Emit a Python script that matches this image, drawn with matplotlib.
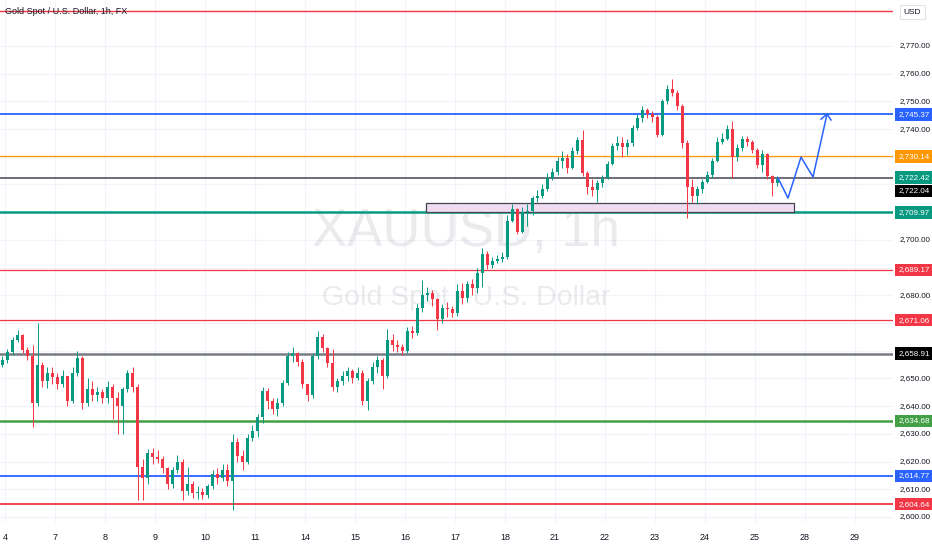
import numpy as np
import matplotlib.pyplot as plt
from matplotlib import transforms

plt.rcParams['font.family'] = ['Liberation Sans', 'DejaVu Sans']

# trading days on the time axis (one unit per session)
day_labels = ['4', '7', '8', '9', '10', '11', '14', '15', '16', '17', '18',
              '21', '22', '23', '24', '25', '28', '29']

# bars: 10 per session, the first one is the last bar before the 4th
first_open = 2655.0
closes = [
    2656.5,
    # 4
    2659.5, 2664, 2665.5, 2660.3, 2658, 2641, 2655, 2649, 2652, 2650.5,
    # 7
    2648, 2651, 2642, 2652, 2657.5, 2641, 2646, 2644, 2645, 2643,
    # 8
    2647, 2643, 2640, 2646, 2652, 2647, 2618, 2614, 2623, 2621.5,
    # 9
    2621, 2617.5, 2612, 2617, 2620, 2609.5, 2612, 2608.5, 2609, 2608,
    # 10
    2611, 2615.5, 2614, 2617, 2613, 2627, 2622, 2620, 2628.5, 2631,
    # 11
    2636, 2645.5, 2642, 2639, 2641, 2648.5, 2658, 2659, 2656, 2648,
    # 14
    2644, 2658, 2665, 2661, 2655.5, 2647, 2649, 2651, 2652.5, 2650,
    # 15
    2652, 2642, 2649, 2654, 2656.5, 2651, 2664, 2662, 2661.5, 2660,
    # 16
    2667, 2666.5, 2675.5, 2680, 2681, 2678.5, 2671.5, 2675.5, 2675, 2673.5,
    # 17
    2681.5, 2679, 2684, 2682.5, 2688, 2695, 2691, 2692.5, 2693, 2694,
    # 18
    2707, 2711, 2703, 2710, 2710.5, 2715, 2716, 2718.5, 2722.5, 2724.5,
    # 21
    2728.5, 2729.5, 2726, 2732, 2736, 2724, 2719, 2718, 2720.5, 2722.5,
    # 22
    2727.5, 2734, 2735, 2733.5, 2735, 2740.5, 2744, 2747, 2745.5, 2744.5,
    # 23
    2738, 2750, 2754.5, 2753, 2748.5, 2735, 2719, 2716, 2718.5, 2721,
    # 24
    2723.5, 2728.5, 2735.5, 2736.5, 2740, 2730, 2733, 2736.5, 2735.5, 2732.5,
    # 25
    2727, 2731, 2723, 2720.5, 2722.04,
]
highs = [
    2658,
    2660.5, 2665, 2667.5, 2666, 2661.5, 2662, 2670, 2656, 2654, 2654,
    2652, 2653, 2651, 2654, 2660, 2658, 2650, 2649, 2647, 2646,
    2649, 2648, 2645, 2647, 2653, 2654, 2648, 2621, 2624.5, 2625,
    2624, 2622, 2618, 2618, 2622.5, 2621, 2618, 2613, 2611, 2610.5,
    2612, 2617, 2617.5, 2619, 2619, 2630, 2628.5, 2624, 2630, 2633,
    2637, 2647, 2646.5, 2643, 2643, 2649.5, 2659.5, 2661.5, 2659.5, 2657,
    2647, 2659, 2667, 2666, 2661.5, 2660.5, 2650, 2652.5, 2654, 2653.5,
    2654, 2653, 2650, 2656, 2658, 2657.5, 2668, 2666, 2664, 2662.5,
    2668.5, 2669, 2677, 2685.5, 2683, 2682, 2679, 2677, 2677.5, 2676,
    2684, 2684.5, 2685, 2686, 2690, 2697, 2696, 2694, 2694.5, 2695.5,
    2709, 2713, 2711.5, 2712, 2713, 2716, 2718, 2720, 2724, 2726,
    2730, 2732, 2731, 2733.5, 2737, 2739.5, 2725, 2722, 2721.5, 2723.5,
    2728.5, 2735, 2737.5, 2737, 2736.5, 2741.5, 2745.5, 2748.5, 2747.5, 2746.5,
    2745, 2751, 2756, 2758, 2754, 2749, 2736, 2722, 2719.5, 2722,
    2725, 2729.5, 2737, 2738.5, 2741.5, 2743, 2734.5, 2737.5, 2737.5, 2736,
    2733, 2732.5, 2731.5, 2723.5, 2723,
]
lows = [
    2654,
    2655.5, 2658.5, 2663, 2659, 2656.5, 2632.5, 2640, 2647, 2646.5, 2648,
    2646, 2647, 2640, 2641, 2651, 2639, 2640, 2642, 2642, 2641,
    2641, 2635.5, 2630, 2630, 2645, 2645, 2606, 2606, 2612, 2619,
    2619.5, 2616, 2610, 2610.5, 2616, 2606, 2608, 2607, 2606.5, 2606.5,
    2607, 2610, 2612, 2613, 2611, 2602.5, 2620, 2617, 2619, 2627.5,
    2629, 2634, 2639, 2637, 2636.5, 2640, 2647.5, 2656, 2654.5, 2646.5,
    2642, 2643, 2657, 2659.5, 2654, 2645.5, 2645, 2647.5, 2649, 2648.5,
    2649.5, 2640.5, 2638.5, 2648, 2652, 2646, 2650, 2660, 2659.5, 2658.5,
    2659, 2664.5, 2665.5, 2674, 2678, 2676, 2667.5, 2670, 2672, 2672,
    2672.5, 2677, 2677.5, 2680, 2681, 2683, 2689.5, 2690, 2691.5, 2692,
    2693, 2706.5, 2702, 2702.5, 2705, 2709, 2713.5, 2715, 2717.5, 2721.5,
    2723.5, 2726, 2724, 2725.5, 2731, 2723, 2716.5, 2716, 2713.5, 2719,
    2722, 2727, 2732.5, 2730, 2730.5, 2734, 2739.5, 2742.5, 2744, 2742.5,
    2737, 2737.5, 2749, 2752, 2747, 2733, 2708, 2713.5, 2713, 2717,
    2720.5, 2722.5, 2728, 2734.5, 2736, 2722.5, 2728.5, 2732, 2734, 2731.5,
    2726, 2724.5, 2722, 2716, 2719.5,
]

# horizontal levels drawn on the chart
top_line = 2782.6
level_prices = [2745.37, 2730.14, 2722.42, 2709.97, 2689.17, 2671.06,
                2658.91, 2634.68, 2614.77, 2604.64]
level_colors = ['#2962ff', '#ff9800', '#434651', '#089981', '#f23645', '#f23645',
                '#787b86', '#43a047', '#2962ff', '#f23645']
label_colors = ['#2962ff', '#ff9800', '#089981', '#089981', '#f23645', '#f23645',
                '#000000', '#43a047', '#2962ff', '#f23645']
level_widths = [1.3, 0.9, 1.1, 1.8, 0.9, 0.9, 1.8, 1.8, 1.3, 1.3]
last_price = 2722.04

# demand zone and projected path
zone_days = (8.42, 15.78)
zone_prices = (2709.97, 2713.4)
proj_days = [15.46, 15.66, 15.92, 16.16, 16.44]
proj_prices = [2722.35, 2715.1, 2729.9, 2722.7, 2745.4]
arrow_days = [16.32, 16.44, 16.52]
arrow_prices = [2743.6, 2745.4, 2743.3]

UP = '#089981'
DOWN = '#f23645'
TEXT = '#131722'
GRID = '#f0f3fa'

fig = plt.figure(figsize=(9.32, 5.5), dpi=100)
ax = fig.add_axes([0, 28 / 550, 893 / 932, 522 / 550])
ax.set_xlim(-0.1, 17.76)
ax.set_ylim(2598.16, 2786.6)
for side in ax.spines.values():
    side.set_visible(False)
ax.set_yticks([])
ax.set_xticks(range(len(day_labels)))
ax.set_xticklabels(day_labels, fontsize=6.5, color=TEXT)
ax.tick_params(axis='x', length=0, pad=8)

grid_prices = np.arange(2600, 2780, 10)
ax.hlines(grid_prices, -0.1, 17.76, colors=GRID, lw=0.8, zorder=0)
ax.vlines(range(len(day_labels)), 2598.16, 2786.6, colors=GRID, lw=0.8, zorder=0)

# watermark
ax.text(9.22, 2702.9, 'XAUUSD, 1h', fontsize=38, color='#787b86', alpha=0.15,
        ha='center', va='center', zorder=1)
ax.text(9.22, 2679.0, 'Gold Spot / U.S. Dollar', fontsize=20.5, color='#787b86',
        alpha=0.15, ha='center', va='center', zorder=1)

# candles
c = np.array(closes)
o = np.array([first_open] + closes[:-1])
h = np.maximum(np.array(highs), np.maximum(o, c))
l = np.minimum(np.array(lows), np.minimum(o, c))
xs = -0.05 + 0.1 * np.arange(len(c))
colors = np.where(c >= o, UP, DOWN)
ax.vlines(xs, l, h, colors=colors, lw=0.7, zorder=3)
ax.bar(xs, np.maximum(np.abs(c - o), 0.35), bottom=np.minimum(o, c),
       width=0.062, color=colors, zorder=4)

# levels
ax.axhline(top_line, color=DOWN, lw=1.0, zorder=2)
for price, col, lw in zip(level_prices, level_colors, level_widths):
    ax.axhline(price, color=col, lw=lw, zorder=2)

# zone and projection
ax.fill_between(zone_days, zone_prices[0], zone_prices[1], facecolor='#f0dcf0',
                edgecolor='#434651', lw=0.9, zorder=2.5)
ax.plot(proj_days, proj_prices, color='#2962ff', lw=1.1, zorder=5)
ax.plot(arrow_days, arrow_prices, color='#2962ff', lw=1.1, zorder=5)

# price scale: plain ticks are hidden where a level label sits
scale = transforms.blended_transform_factory(ax.transAxes, ax.transData)
label_spots = level_prices + [level_prices[2] - 4.7]
for p in grid_prices:
    if min(abs(p - q) for q in label_spots) < 4.5:
        continue
    ax.text(1.0075, p, '{:,.2f}'.format(p), transform=scale, fontsize=5.8,
            color=TEXT, ha='left', va='center', clip_on=False, zorder=6)

for price, col in zip(level_prices, label_colors):
    ax.text(1.0058, price, '{:,.2f}'.format(price), transform=scale, fontsize=5.8,
            color='white', ha='left', va='center', clip_on=False, zorder=8,
            bbox=dict(boxstyle='square,pad=0.35', fc=col, ec='none'))

shifted = transforms.offset_copy(scale, fig=fig, x=0, y=-9.5, units='points')
ax.text(1.0058, level_prices[2], '{:,.2f}'.format(last_price), transform=shifted,
        fontsize=5.8, color='white', ha='left', va='center', clip_on=False,
        zorder=9, bbox=dict(boxstyle='square,pad=0.35', fc='#000000', ec='none'))

fig.text(5 / 932, 1 - 11 / 550, 'Gold Spot / U.S. Dollar, 1h, FX', fontsize=6.5,
         color=TEXT, ha='left', va='center')
fig.text(912 / 932, 1 - 12 / 550, 'USD', fontsize=6, color=TEXT, ha='center',
         va='center', bbox=dict(boxstyle='square,pad=0.45', fc='white',
                                ec='#e0e3eb', lw=0.8))

fig.savefig('out.png', dpi=100)
